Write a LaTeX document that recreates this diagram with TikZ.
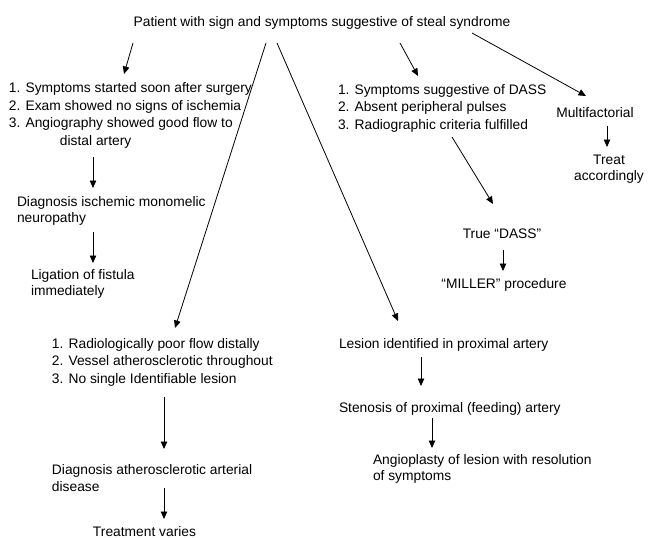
\documentclass[tikz,border=0pt]{standalone}
\usepackage{fontspec}
\setmainfont{Liberation Sans}
\usetikzlibrary{arrows.meta}
\begin{document}
\begin{tikzpicture}[x=1pt,y=1pt,
  >={Triangle[length=7.5pt,width=6.5pt]},
  txt/.style={inner sep=0pt,outer sep=0pt},
  lst/.style={txt,align=left,anchor=base west,font=\fontsize{13.8}{17.5}\selectfont},
  wrp/.style={txt,align=left,anchor=base west,font=\fontsize{13.8}{15.5}\selectfont},
  ctr/.style={txt,align=center,anchor=base,font=\fontsize{13.8}{15.5}\selectfont},
  arr/.style={line width=0.8pt,->}]
\useasboundingbox (0,0) rectangle (649,-538);
% nodes (anchor = baseline of last line)
\node[ctr] (title) at (322,-27) {Patient with sign and symptoms suggestive of steal syndrome};
\node[lst] (L1) at (9,-145) {1. Symptoms started soon after surgery\\2. Exam showed no signs of ischemia\\3. Angiography showed good flow to\\\hspace*{51pt}distal artery};
\node[wrp] (D1) at (17,-222) {Diagnosis ischemic monomelic\\neuropathy};
\node[wrp] (Lig) at (31,-295) {Ligation of fistula\\immediately};
\node[lst] (L2) at (338,-129) {1. Symptoms suggestive of DASS\\2. Absent peripheral pulses\\3. Radiographic criteria fulfilled};
\node[ctr] (Multi) at (595,-117) {Multifactorial};
\node[ctr] (Treat) at (609,-180) {Treat\\accordingly};
\node[ctr] (True) at (502,-238) {True “DASS”};
\node[ctr] (Miller) at (504,-288) {“MILLER” procedure};
\node[lst] (L3) at (52,-383) {1. Radiologically poor flow distally\\2. Vessel atherosclerotic throughout\\3. No single Identifiable lesion};
\node[wrp,font=\fontsize{13.8}{16.7}\selectfont] (D3) at (52,-491.5) {Diagnosis atherosclerotic arterial\\disease};
\node[ctr] (Tv) at (144.5,-536) {Treatment varies};
\node[lst] (Les) at (339,-348) {Lesion identified in proximal artery};
\node[lst] (Sten) at (339,-412) {Stenosis of proximal (feeding) artery};
\node[wrp,font=\fontsize{13.8}{16}\selectfont] (Ang) at (373,-480) {Angioplasty of lesion with resolution\\of symptoms};
% connector end points
\coordinate (a1s) at (133,-43);  \coordinate (a1e) at (124,-74);
\coordinate (a2s) at (400,-43);  \coordinate (a2e) at (418,-76);
\coordinate (a3s) at (472,-33);  \coordinate (a3e) at (586,-96);
\coordinate (a4s) at (266,-43);  \coordinate (a4e) at (175,-328);
\coordinate (a5s) at (277,-43);  \coordinate (a5e) at (398,-321);
\coordinate (a6s) at (93,-157);  \coordinate (a6e) at (93,-188);
\coordinate (a7s) at (93,-232);  \coordinate (a7e) at (93,-263);
\coordinate (a8s) at (452,-137); \coordinate (a8e) at (493,-204);
\coordinate (a9s) at (503,-250); \coordinate (a9e) at (503,-271);
\coordinate (a10s) at (607,-126); \coordinate (a10e) at (607,-147);
\coordinate (a11s) at (421,-357); \coordinate (a11e) at (421,-386);
\coordinate (a12s) at (432,-418); \coordinate (a12e) at (432,-448);
\coordinate (a13s) at (164,-397); \coordinate (a13e) at (164,-449);
\coordinate (a14s) at (164,-488); \coordinate (a14e) at (164,-519);
% connectors
\draw[arr] (a1s) -- (a1e);
\draw[arr] (a2s) -- (a2e);
\draw[arr] (a3s) -- (a3e);
\draw[arr] (a4s) -- (a4e);
\draw[arr] (a5s) -- (a5e);
\draw[arr] (a6s) -- (a6e);
\draw[arr] (a7s) -- (a7e);
\draw[arr] (a8s) -- (a8e);
\draw[arr] (a9s) -- (a9e);
\draw[arr] (a10s) -- (a10e);
\draw[arr] (a11s) -- (a11e);
\draw[arr] (a12s) -- (a12e);
\draw[arr] (a13s) -- (a13e);
\draw[arr] (a14s) -- (a14e);
\end{tikzpicture}
\end{document}
